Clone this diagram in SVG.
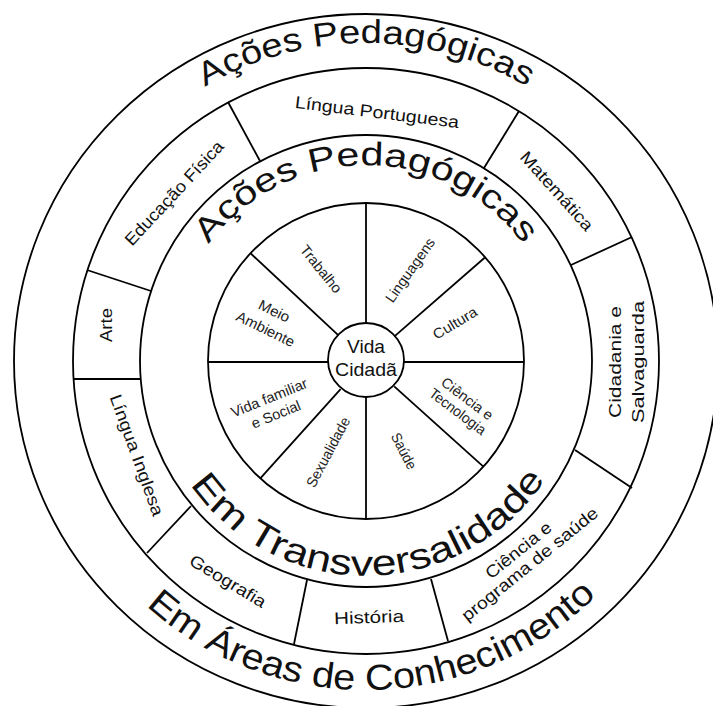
<svg xmlns="http://www.w3.org/2000/svg" width="713" height="706" viewBox="0 0 713 706">
<style>
.ring{fill:none;stroke:#000;stroke-width:1.8}
.ln{stroke:#000;stroke-width:1.8;fill:none}
text{font-family:"Liberation Sans",Arial,sans-serif;fill:#111}
.w{font-size:14.5px;fill:#222}
.s{font-size:17px}
.c{font-size:19px}
.big{font-size:33px}
.huge{font-size:36px}
</style>
<defs>
<path id="pTopOuter" d="M 90.6 202 A 318 318 0 0 1 641.4 202"/>
<path id="pTopInner" d="M 173 327 A 196 196 0 0 1 559 327"/>
<path id="pBotInner" d="M 154.3 398.3 A 215 215 0 0 0 577.7 398.3"/>
<path id="pBotOuter" d="M 42 418.1 A 329 329 0 0 0 690 418.1"/>
</defs>
<rect width="713" height="706" fill="#fff"/>

<g id="rings">
<ellipse class="ring" cx="366" cy="361" rx="352" ry="347" stroke-width="2.2"/>
<circle class="ring" cx="366" cy="361" r="293"/>
<circle class="ring" cx="366" cy="361" r="226"/>
<circle class="ring" cx="366" cy="361" r="158"/>
<ellipse class="ring" cx="366" cy="360" rx="38" ry="37"/>
</g>

<g id="connectors">
<line class="ln" x1="366" y1="203" x2="366" y2="323"/>
<line class="ln" x1="366" y1="397" x2="366" y2="519"/>
<line class="ln" x1="208" y1="362" x2="328" y2="362"/>
<line class="ln" x1="404" y1="362" x2="524" y2="362"/>
<line class="ln" x1="250.4" y1="253.2" x2="338.2" y2="335.1"/>
<line class="ln" x1="485.2" y1="257.3" x2="394.7" y2="336.1"/>
<line class="ln" x1="260.3" y1="478.4" x2="340.6" y2="389.2"/>
<line class="ln" x1="483.4" y1="466.7" x2="394.2" y2="386.4"/>
<line class="ln" x1="260" y1="161" x2="228" y2="102"/>
<line class="ln" x1="484" y1="168" x2="519" y2="111"/>
<line class="ln" x1="571" y1="265" x2="632" y2="237"/>
<line class="ln" x1="151" y1="291" x2="87" y2="270"/>
<line class="ln" x1="140" y1="379" x2="73" y2="379"/>
<line class="ln" x1="191" y1="506" x2="147" y2="553"/>
<line class="ln" x1="307" y1="580" x2="294" y2="644"/>
<line class="ln" x1="431" y1="579" x2="448" y2="641"/>
<line class="ln" x1="575" y1="450" x2="632" y2="488"/>
</g>

<g id="titles">
<text class="big"><textPath href="#pTopOuter" startOffset="50%" text-anchor="middle" textLength="338" lengthAdjust="spacingAndGlyphs">Ações Pedagógicas</textPath></text>
<text class="big"><textPath href="#pTopInner" startOffset="50%" text-anchor="middle" textLength="365" lengthAdjust="spacingAndGlyphs">Ações Pedagógicas</textPath></text>
<text class="huge"><textPath href="#pBotInner" startOffset="50.5%" text-anchor="middle" textLength="418" lengthAdjust="spacingAndGlyphs">Em Transversalidade</textPath></text>
<text class="huge"><textPath href="#pBotOuter" startOffset="50.8%" text-anchor="middle" textLength="496" lengthAdjust="spacingAndGlyphs">Em Áreas de Conhecimento</textPath></text>
</g>

<g id="center">
<text class="c" x="366" y="353" text-anchor="middle" textLength="38" lengthAdjust="spacingAndGlyphs">Vida</text>
<text class="c" x="366" y="376" text-anchor="middle" textLength="62" lengthAdjust="spacingAndGlyphs">Cidadã</text>
</g>

<g id="wheel-labels">
<g id="trabalho"><text class="w" transform="translate(321,269) rotate(51)" text-anchor="middle" dy="0.35em" textLength="57" lengthAdjust="spacingAndGlyphs">Trabalho</text></g>
<g id="linguagens"><text class="w" transform="translate(410,270) rotate(-55)" text-anchor="middle" dy="0.35em" textLength="75" lengthAdjust="spacingAndGlyphs">Linguagens</text></g>
<g id="cultura"><text class="w" transform="translate(455,323) rotate(-31)" text-anchor="middle" dy="0.35em" textLength="49" lengthAdjust="spacingAndGlyphs">Cultura</text></g>
<g id="ciencia-tec" transform="translate(462.5,405) rotate(37)">
<text class="w" y="-8" text-anchor="middle" dy="0.35em" textLength="61" lengthAdjust="spacingAndGlyphs">Ciência e</text>
<text class="w" y="8" text-anchor="middle" dy="0.35em" textLength="67" lengthAdjust="spacingAndGlyphs">Tecnologia</text>
</g>
<g id="saude"><text class="w" transform="translate(404,451) rotate(63)" text-anchor="middle" dy="0.35em" textLength="39" lengthAdjust="spacingAndGlyphs">Saúde</text></g>
<g id="sexualidade"><text class="w" transform="translate(328,452) rotate(-62)" text-anchor="middle" dy="0.35em" textLength="77" lengthAdjust="spacingAndGlyphs">Sexualidade</text></g>
<g id="vida-familiar" transform="translate(272.5,406) rotate(-22)">
<text class="w" y="-9" text-anchor="middle" dy="0.35em" textLength="81" lengthAdjust="spacingAndGlyphs">Vida familiar</text>
<text class="w" y="9" text-anchor="middle" dy="0.35em" textLength="52" lengthAdjust="spacingAndGlyphs">e Social</text>
</g>
<g id="meio-ambiente" transform="translate(270,320) rotate(26)">
<text class="w" y="-10" text-anchor="middle" dy="0.35em" textLength="33" lengthAdjust="spacingAndGlyphs">Meio</text>
<text class="w" y="10" text-anchor="middle" dy="0.35em" textLength="63" lengthAdjust="spacingAndGlyphs">Ambiente</text>
</g>
</g>

<g id="subject-labels">
<g id="lingua-portuguesa"><text class="s" transform="translate(377,112) rotate(7)" text-anchor="middle" dy="0.35em" textLength="165" lengthAdjust="spacingAndGlyphs">Língua Portuguesa</text></g>
<g id="educacao-fisica"><text class="s" transform="translate(174,193) rotate(-47)" text-anchor="middle" dy="0.35em" textLength="136" lengthAdjust="spacingAndGlyphs">Educação Física</text></g>
<g id="matematica"><text class="s" transform="translate(557,191) rotate(48)" text-anchor="middle" dy="0.35em" textLength="100" lengthAdjust="spacingAndGlyphs">Matemática</text></g>
<g id="arte"><text class="s" transform="translate(106,325) rotate(-90)" text-anchor="middle" dy="0.35em" textLength="34" lengthAdjust="spacingAndGlyphs">Arte</text></g>
<g id="lingua-inglesa"><text class="s" transform="translate(137,455) rotate(70)" text-anchor="middle" dy="0.35em" textLength="128" lengthAdjust="spacingAndGlyphs">Língua Inglesa</text></g>
<g id="cidadania" transform="translate(626,362) rotate(-90)">
<text class="s" y="-11" text-anchor="middle" dy="0.35em" font-size="19" textLength="112" lengthAdjust="spacingAndGlyphs">Cidadania e</text>
<text class="s" y="12" text-anchor="middle" dy="0.35em" font-size="19" textLength="122" lengthAdjust="spacingAndGlyphs">Salvaguarda</text>
</g>
<g id="ciencia-programa" transform="translate(524,557) rotate(-39)">
<text class="s" y="-9" text-anchor="middle" dy="0.35em" textLength="80" lengthAdjust="spacingAndGlyphs">Ciência e</text>
<text class="s" y="9" text-anchor="middle" dy="0.35em" textLength="170" lengthAdjust="spacingAndGlyphs">programa de saúde</text>
</g>
<g id="historia"><text class="s" transform="translate(369,617) rotate(-2)" text-anchor="middle" dy="0.35em" textLength="70" lengthAdjust="spacingAndGlyphs">História</text></g>
<g id="geografia"><text class="s" transform="translate(228,581) rotate(31)" text-anchor="middle" dy="0.35em" textLength="86" lengthAdjust="spacingAndGlyphs">Geografia</text></g>
</g>
</svg>
